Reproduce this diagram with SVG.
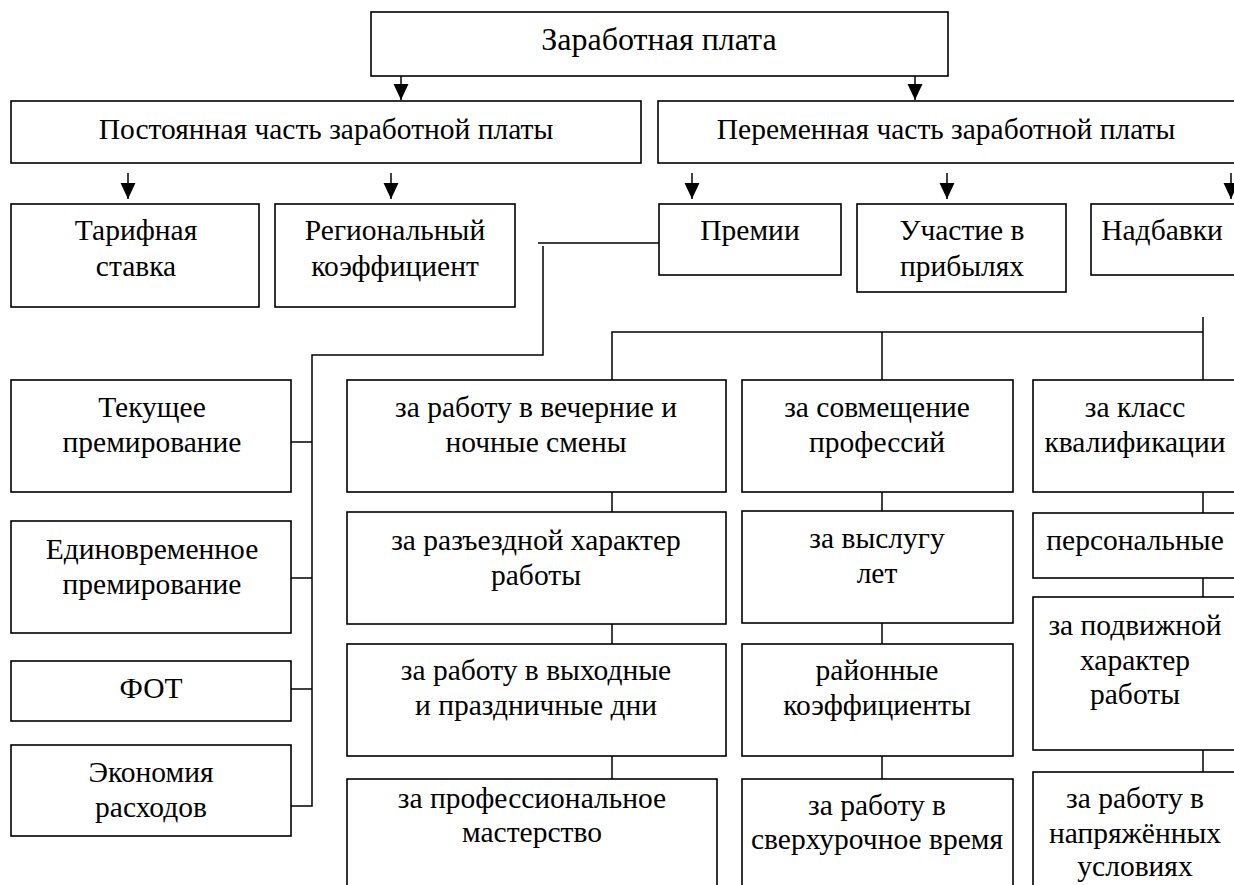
<svg xmlns="http://www.w3.org/2000/svg" width="1234" height="885" viewBox="0 0 1234 885">
<style>
  .box{fill:#fff;stroke:#000;stroke-width:1.6}
  .t{font-family:"Liberation Serif","Times New Roman",serif;font-size:29.5px;fill:#000;text-anchor:middle}
  .title{font-size:32px}
  .c{fill:none;stroke:#000;stroke-width:1.5}
</style>
<defs>
  <marker id="ah" markerUnits="userSpaceOnUse" markerWidth="16" markerHeight="16" refX="7" refY="15" orient="0" viewBox="0 0 14 15">
    <path d="M0,0 L14,0 L7,15 Z" fill="#000"/>
  </marker>
</defs>
<rect width="1234" height="885" fill="#fff"/>

<g id="connectors">
  <line class="c" x1="401" y1="76" x2="401" y2="100" marker-end="url(#ah)"/>
  <line class="c" x1="915" y1="76" x2="915" y2="100" marker-end="url(#ah)"/>
  <line class="c" x1="128" y1="173" x2="128" y2="199" marker-end="url(#ah)"/>
  <line class="c" x1="391" y1="173" x2="391" y2="199" marker-end="url(#ah)"/>
  <line class="c" x1="692" y1="173" x2="692" y2="199" marker-end="url(#ah)"/>
  <line class="c" x1="947" y1="173" x2="947" y2="199" marker-end="url(#ah)"/>
  <line class="c" x1="1231" y1="173" x2="1231" y2="199" marker-end="url(#ah)"/>
  <line class="c" x1="659" y1="243" x2="538" y2="243"/>
  <polyline class="c" points="543,246 543,355 312,355 312,806 291,806"/>
  <line class="c" x1="291" y1="442" x2="312" y2="442"/>
  <line class="c" x1="291" y1="578" x2="312" y2="578"/>
  <line class="c" x1="291" y1="689" x2="312" y2="689"/>
  <line class="c" x1="1203" y1="317" x2="1203" y2="380"/>
  <polyline class="c" points="612,380 612,332 1203,332"/>
  <line class="c" x1="882" y1="332" x2="882" y2="380"/>
  <line class="c" x1="612" y1="492" x2="612" y2="512"/>
  <line class="c" x1="612" y1="624" x2="612" y2="644"/>
  <line class="c" x1="612" y1="756" x2="612" y2="779"/>
  <line class="c" x1="882" y1="492" x2="882" y2="511"/>
  <line class="c" x1="882" y1="623" x2="882" y2="644"/>
  <line class="c" x1="882" y1="756" x2="882" y2="779"/>
  <line class="c" x1="1203" y1="492" x2="1203" y2="513"/>
  <line class="c" x1="1203" y1="578" x2="1203" y2="597"/>
  <line class="c" x1="1203" y1="750" x2="1203" y2="772"/>
</g>

<g id="n-zp"><rect class="box" x="371" y="12" width="577" height="64"/><text class="t title" x="659" y="50">Заработная плата</text></g>
<g id="n-post"><rect class="box" x="11" y="101" width="630" height="62"/><text class="t" x="326" y="139">Постоянная часть заработной платы</text></g>
<g id="n-perem"><rect class="box" x="658" y="101" width="590" height="62"/><text class="t" x="946" y="139">Переменная часть заработной платы</text></g>

<g id="n-tarif"><rect class="box" x="11" y="204" width="248" height="103"/><text class="t" x="136" y="240">Тарифная</text><text class="t" x="136" y="276">ставка</text></g>
<g id="n-region"><rect class="box" x="275" y="204" width="240" height="103"/><text class="t" x="395" y="240">Региональный</text><text class="t" x="395" y="276">коэффициент</text></g>
<g id="n-premii"><rect class="box" x="659" y="204" width="182" height="71"/><text class="t" x="750" y="240">Премии</text></g>
<g id="n-uchastie"><rect class="box" x="857" y="204" width="209" height="88"/><text class="t" x="962" y="240">Участие в</text><text class="t" x="962" y="276">прибылях</text></g>
<g id="n-nadbavki"><rect class="box" x="1091" y="204" width="160" height="71"/><text class="t" x="1162" y="240">Надбавки</text></g>

<g id="n-tekushee"><rect class="box" x="11" y="380" width="280" height="112"/><text class="t" x="152" y="417">Текущее</text><text class="t" x="152" y="452">премирование</text></g>
<g id="n-edinovr"><rect class="box" x="11" y="521" width="280" height="112"/><text class="t" x="152" y="559">Единовременное</text><text class="t" x="152" y="594">премирование</text></g>
<g id="n-fot"><rect class="box" x="11" y="661" width="280" height="60"/><text class="t" x="151" y="698">ФОТ</text></g>
<g id="n-ekonom"><rect class="box" x="11" y="745" width="280" height="91"/><text class="t" x="151" y="782">Экономия</text><text class="t" x="151" y="817">расходов</text></g>

<g id="n-vecher"><rect class="box" x="347" y="380" width="379" height="112"/><text class="t" x="536" y="417">за работу в вечерние и</text><text class="t" x="536" y="452">ночные смены</text></g>
<g id="n-razezd"><rect class="box" x="347" y="512" width="379" height="112"/><text class="t" x="536" y="550">за разъездной характер</text><text class="t" x="536" y="585">работы</text></g>
<g id="n-vyhodn"><rect class="box" x="347" y="644" width="379" height="112"/><text class="t" x="536" y="680">за работу в выходные</text><text class="t" x="536" y="715">и праздничные дни</text></g>
<g id="n-prof"><rect class="box" x="347" y="779" width="370" height="120"/><text class="t" x="532" y="808">за профессиональное</text><text class="t" x="532" y="842">мастерство</text></g>

<g id="n-sovm"><rect class="box" x="742" y="380" width="271" height="112"/><text class="t" x="877" y="417">за совмещение</text><text class="t" x="877" y="452">профессий</text></g>
<g id="n-vysl"><rect class="box" x="742" y="511" width="271" height="112"/><text class="t" x="877" y="548">за выслугу</text><text class="t" x="877" y="583">лет</text></g>
<g id="n-rayon"><rect class="box" x="742" y="644" width="271" height="112"/><text class="t" x="877" y="680">районные</text><text class="t" x="877" y="715">коэффициенты</text></g>
<g id="n-sverh"><rect class="box" x="742" y="779" width="271" height="120"/><text class="t" x="877" y="815">за работу в</text><text class="t" x="877" y="849">сверхурочное время</text></g>

<g id="n-klass"><rect class="box" x="1033" y="380" width="215" height="112"/><text class="t" x="1135" y="417">за класс</text><text class="t" x="1135" y="452">квалификации</text></g>
<g id="n-person"><rect class="box" x="1033" y="513" width="215" height="65"/><text class="t" x="1135" y="550">персональные</text></g>
<g id="n-podv"><rect class="box" x="1033" y="597" width="215" height="153"/><text class="t" x="1135" y="635">за подвижной</text><text class="t" x="1135" y="670">характер</text><text class="t" x="1135" y="704">работы</text></g>
<g id="n-napr"><rect class="box" x="1033" y="772" width="215" height="130"/><text class="t" x="1135" y="808">за работу в</text><text class="t" x="1135" y="843">напряжённых</text><text class="t" x="1135" y="876">условиях</text></g>
</svg>
